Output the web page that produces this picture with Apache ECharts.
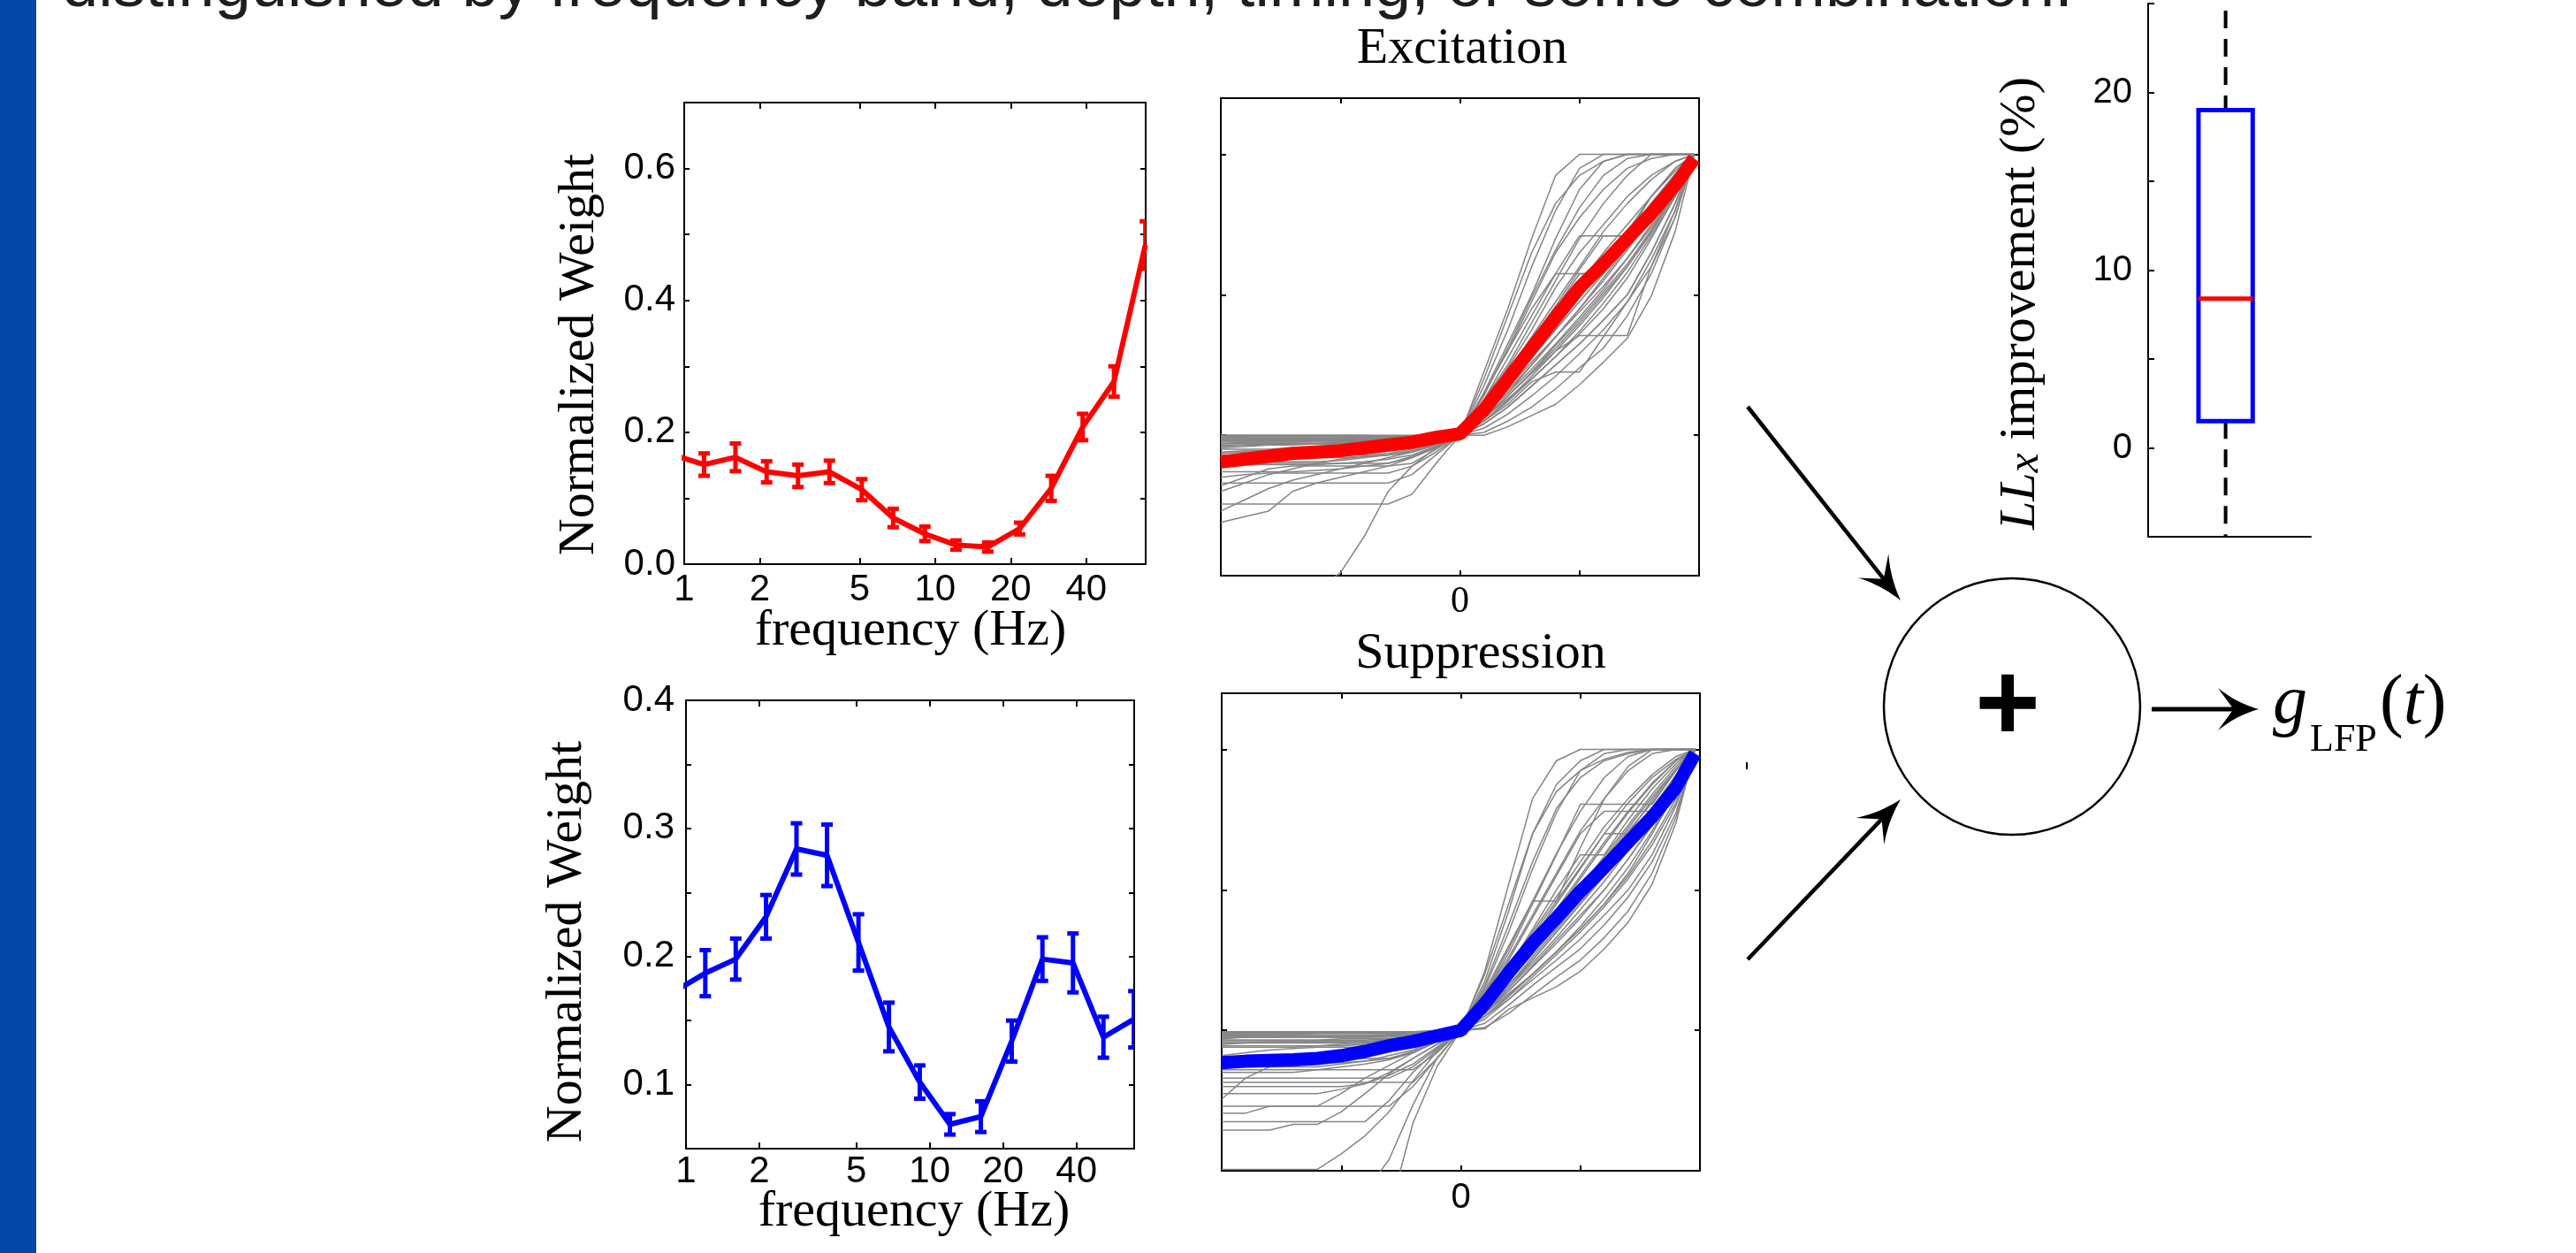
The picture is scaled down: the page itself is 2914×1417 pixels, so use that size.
<!DOCTYPE html>
<html><head><meta charset="utf-8">
<script src="https://cdn.jsdelivr.net/npm/echarts@6/dist/echarts.min.js"></script>
<style>html,body{margin:0;padding:0;background:#fff;overflow:hidden}#c{width:2914px;height:1417px;}</style>
</head><body><div id="c"></div>
<script>
// ---------------- data ----------------
const freqHz = [0.9, 1.2, 1.6, 2.13, 2.84, 3.79, 5.1, 6.8, 9.1, 12.1, 16.2, 21.7, 29, 38.7, 51.6, 68.8];
const excWeight = [0.166, 0.151, 0.162, 0.140, 0.134, 0.140, 0.113, 0.070, 0.046, 0.029, 0.026, 0.054, 0.115, 0.208, 0.277, 0.484];
const excErr = [0.017, 0.017, 0.021, 0.016, 0.017, 0.017, 0.016, 0.014, 0.011, 0.007, 0.007, 0.009, 0.019, 0.020, 0.023, 0.036];
const supWeight = [0.173, 0.187, 0.198, 0.231, 0.284, 0.279, 0.211, 0.145, 0.102, 0.069, 0.075, 0.134, 0.198, 0.195, 0.137, 0.151];
const supErr = [0.018, 0.018, 0.016, 0.017, 0.020, 0.024, 0.022, 0.019, 0.013, 0.008, 0.012, 0.016, 0.017, 0.023, 0.016, 0.022];
const freqTicks = [1, 2, 5, 10, 20, 40];

const nlX = [-2, -1.8, -1.6, -1.4, -1.2, -1, -0.8, -0.6, -0.4, -0.2, 0, 0.2, 0.4, 0.6, 0.8, 1, 1.2, 1.4, 1.6, 1.8, 1.96];
const excMean = [0.81, 0.83, 0.85, 0.87, 0.88, 0.89, 0.91, 0.93, 0.95, 0.985, 1.01, 1.18, 1.40, 1.62, 1.84, 2.05, 2.22, 2.40, 2.58, 2.78, 2.97];
const supMean = [0.77, 0.78, 0.785, 0.79, 0.80, 0.82, 0.85, 0.89, 0.92, 0.96, 1.00, 1.19, 1.41, 1.62, 1.80, 1.99, 2.16, 2.34, 2.52, 2.73, 2.97];

const excGray = [
 [1.00,1.00,1.00,1.00,1.00,1.00,1.00,1.00,1.00,1.00,1.00,1.45,1.90,2.40,2.85,3.00,3.00,3.00,3.00,3.00,3.00],
 [0.98,0.98,0.98,0.98,0.98,0.98,0.98,0.98,0.99,0.99,1.00,1.35,1.75,2.20,2.60,2.90,3.00,3.00,3.00,3.00,3.00],
 [0.96,0.96,0.96,0.97,0.97,0.97,0.97,0.98,0.98,0.99,1.00,1.40,1.85,2.30,2.65,2.85,2.95,3.00,3.00,3.00,3.00],
 [0.94,0.95,0.95,0.95,0.95,0.95,0.96,0.96,0.97,0.98,1.00,1.30,1.65,2.00,2.40,2.75,2.95,3.00,3.00,3.00,3.00],
 [0.91,0.92,0.93,0.93,0.94,0.94,0.94,0.95,0.96,0.98,1.00,1.30,1.60,1.95,2.30,2.55,2.75,2.90,2.97,3.00,3.00],
 [0.87,0.88,0.88,0.88,0.89,0.89,0.90,0.90,0.92,0.95,1.00,1.25,1.55,1.85,2.15,2.42,2.42,2.42,2.70,2.90,3.00],
 [0.84,0.86,0.86,0.86,0.86,0.86,0.86,0.87,0.90,0.95,1.00,1.22,1.48,1.75,2.05,2.30,2.50,2.70,2.85,2.95,3.00],
 [0.81,0.81,0.81,0.81,0.81,0.82,0.84,0.86,0.89,0.94,1.00,1.30,1.60,1.90,2.15,2.15,2.15,2.45,2.70,2.90,3.00],
 [0.77,0.79,0.80,0.80,0.80,0.80,0.80,0.80,0.85,0.92,1.00,1.20,1.42,1.65,1.90,2.15,2.15,2.40,2.65,2.85,3.00],
 [0.74,0.74,0.74,0.74,0.75,0.76,0.78,0.80,0.84,0.91,1.00,1.18,1.38,1.60,1.85,2.05,2.25,2.45,2.65,2.85,3.00],
 [0.70,0.72,0.73,0.73,0.73,0.73,0.73,0.73,0.78,0.88,1.00,1.15,1.35,1.55,1.75,1.95,2.15,2.35,2.60,2.82,3.00],
 [0.66,0.66,0.66,0.66,0.66,0.66,0.66,0.66,0.72,0.86,1.00,1.15,1.30,1.50,1.70,1.90,2.10,2.32,2.55,2.80,3.00],
 [0.64,0.70,0.76,0.78,0.78,0.78,0.78,0.78,0.80,0.90,1.00,1.12,1.28,1.45,1.62,1.80,2.00,2.20,2.45,2.72,3.00],
 [0.60,0.66,0.72,0.76,0.80,0.83,0.85,0.86,0.88,0.93,1.00,1.10,1.25,1.42,1.60,1.71,1.71,1.71,2.20,2.60,3.00],
 [0.51,0.51,0.51,0.51,0.51,0.51,0.51,0.51,0.58,0.80,1.00,1.10,1.22,1.38,1.45,1.45,1.70,1.95,2.25,2.60,3.00],
 [0.46,0.54,0.62,0.68,0.72,0.76,0.80,0.84,0.88,0.94,1.00,1.08,1.20,1.35,1.50,1.65,1.82,2.00,2.30,2.65,3.00],
 [0.38,0.42,0.46,0.60,0.66,0.70,0.74,0.78,0.84,0.92,1.00,1.05,1.15,1.28,1.42,1.58,1.75,1.95,2.20,2.55,3.00],
 [-0.50,-0.40,-0.30,-0.20,-0.10,0.02,0.28,0.60,0.78,0.91,1.00,1.00,1.06,1.14,1.22,1.36,1.52,1.69,1.99,2.45,3.00],
 [1.00,1.00,1.00,1.00,1.00,1.00,1.00,0.99,0.99,0.99,1.00,1.02,1.10,1.20,1.33,1.48,1.62,1.85,2.15,2.55,3.00],
 [0.95,0.95,0.95,0.95,0.96,0.96,0.96,0.96,0.97,0.98,1.00,1.25,1.50,1.80,2.10,2.40,2.65,2.85,3.00,3.00,3.00],
 [0.98,0.98,0.97,0.97,0.97,0.97,0.97,0.97,0.98,0.99,1.00,1.20,1.45,1.70,1.95,2.20,2.45,2.65,2.82,2.95,3.00],
 [0.88,0.89,0.89,0.90,0.90,0.90,0.90,0.91,0.93,0.96,1.00,1.12,1.28,1.45,1.64,1.82,2.02,2.22,2.46,2.74,3.00],
 [0.96,0.96,0.96,0.96,0.96,0.96,0.97,0.97,0.98,0.99,1.00,1.08,1.20,1.35,1.50,1.65,1.82,2.00,2.30,2.65,3.00],
 [0.92,0.93,0.93,0.94,0.94,0.94,0.95,0.95,0.96,0.98,1.00,1.15,1.35,1.55,1.76,1.98,2.20,2.42,2.62,2.85,3.00],
 [0.97,0.97,0.97,0.97,0.97,0.98,0.98,0.98,0.98,0.99,1.00,1.16,1.34,1.52,1.70,1.88,2.06,2.26,2.48,2.74,3.00],
 [0.99,0.99,0.99,0.99,0.99,0.99,0.99,0.99,0.99,1.00,1.00,1.14,1.30,1.47,1.65,1.84,2.04,2.26,2.50,2.76,3.00],
 [0.93,0.93,0.94,0.94,0.94,0.95,0.95,0.96,0.97,0.98,1.00,1.13,1.28,1.44,1.60,1.78,1.98,2.20,2.44,2.72,3.00],
 [0.90,0.90,0.90,0.91,0.91,0.92,0.92,0.93,0.94,0.97,1.00,1.18,1.40,1.62,1.86,2.08,2.30,2.50,2.70,2.88,3.00],
 [0.86,0.86,0.87,0.87,0.87,0.88,0.88,0.89,0.91,0.95,1.00,1.16,1.36,1.56,1.78,2.00,2.22,2.44,2.64,2.84,3.00],
 [0.83,0.83,0.83,0.84,0.84,0.84,0.85,0.86,0.88,0.93,1.00,1.14,1.32,1.50,1.70,1.90,2.12,2.34,2.58,2.80,3.00],
 [0.79,0.79,0.79,0.79,0.79,0.80,0.81,0.83,0.86,0.92,1.00,1.10,1.24,1.40,1.56,1.74,1.94,2.16,2.42,2.70,3.00],
 [0.99,0.99,0.99,0.99,0.99,0.99,0.99,0.99,0.99,0.99,1.00,1.28,1.62,1.98,2.32,2.62,2.85,2.97,3.00,3.00,3.00],
 [0.97,0.97,0.97,0.97,0.97,0.97,0.97,0.97,0.98,0.99,1.00,1.20,1.44,1.68,1.92,2.18,2.42,2.42,2.65,2.86,3.00],
 [0.94,0.94,0.94,0.94,0.94,0.94,0.95,0.95,0.96,0.98,1.00,1.12,1.26,1.40,1.56,1.72,1.90,2.12,2.40,2.70,3.00]
];

const supGray = [
 [0.99,0.99,0.99,0.99,0.99,0.99,0.99,0.99,0.99,1.00,1.00,1.42,2.04,2.65,2.92,3.00,3.00,3.00,3.00,3.00,3.00],
 [0.97,0.97,0.97,0.97,0.98,0.98,0.98,0.98,0.98,0.99,1.00,1.35,1.85,2.40,2.75,2.92,3.00,3.00,3.00,3.00,3.00],
 [0.96,0.96,0.96,0.96,0.96,0.96,0.96,0.97,0.97,0.99,1.00,1.30,1.70,2.15,2.55,2.85,2.97,3.00,3.00,3.00,3.00],
 [0.94,0.95,0.95,0.95,0.95,0.95,0.95,0.95,0.96,0.98,1.00,1.28,1.60,1.92,1.92,2.30,2.65,2.88,3.00,3.00,3.00],
 [0.93,0.93,0.93,0.93,0.93,0.93,0.93,0.94,0.95,0.97,1.00,1.25,1.55,1.90,2.25,2.61,2.61,2.61,2.61,2.85,3.00],
 [0.90,0.91,0.92,0.92,0.92,0.92,0.92,0.93,0.94,0.97,1.00,1.22,1.50,1.80,2.10,2.40,2.56,2.56,2.56,2.80,3.00],
 [0.88,0.88,0.88,0.88,0.89,0.90,0.91,0.92,0.93,0.96,1.00,1.20,1.45,1.72,2.00,2.25,2.25,2.50,2.72,2.90,3.00],
 [0.82,0.84,0.86,0.87,0.88,0.88,0.88,0.89,0.91,0.95,1.00,1.18,1.40,1.65,1.90,2.15,2.40,2.62,2.80,2.93,3.00],
 [0.74,0.74,0.74,0.74,0.74,0.76,0.78,0.82,0.86,0.93,1.00,1.15,1.36,1.58,1.80,2.02,2.24,2.46,2.68,2.88,3.00],
 [0.70,0.70,0.70,0.70,0.72,0.74,0.76,0.79,0.84,0.92,1.00,1.12,1.32,1.52,1.72,1.92,2.12,2.34,2.58,2.80,3.00],
 [0.66,0.66,0.66,0.66,0.66,0.66,0.66,0.66,0.74,0.87,1.00,1.12,1.28,1.46,1.64,1.82,2.00,2.22,2.46,2.74,3.00],
 [0.60,0.60,0.60,0.60,0.60,0.60,0.62,0.70,0.80,0.90,1.00,1.10,1.25,1.40,1.56,1.72,1.90,2.10,2.35,2.65,3.00],
 [0.55,0.55,0.55,0.55,0.55,0.58,0.62,0.68,0.76,0.88,1.00,1.08,1.22,1.36,1.50,1.65,1.82,2.00,2.25,2.60,3.00],
 [0.51,0.66,0.74,0.78,0.80,0.82,0.84,0.86,0.89,0.94,1.00,1.05,1.18,1.32,1.45,1.58,1.75,1.95,2.20,2.55,3.00],
 [0.46,0.46,0.46,0.46,0.46,0.46,0.46,0.46,0.60,0.80,1.00,1.02,1.12,1.25,1.38,1.50,1.66,1.85,2.12,2.52,3.00],
 [0.41,0.41,0.46,0.46,0.46,0.55,0.66,0.75,0.84,0.92,1.00,1.01,1.15,1.23,1.31,1.42,1.58,1.77,2.04,2.48,3.00],
 [0.29,0.29,0.29,0.33,0.33,0.42,0.55,0.69,0.80,0.90,1.00,1.40,1.90,2.40,2.70,2.85,2.93,2.98,3.00,3.00,3.00],
 [0.01,0.01,0.01,0.01,0.01,0.12,0.25,0.42,0.64,0.85,1.00,1.32,1.75,2.20,2.58,2.80,2.92,2.97,3.00,3.00,3.00],
 [-0.80,-0.70,-0.60,-0.50,-0.40,-0.30,-0.15,0.08,0.47,0.80,1.00,1.25,1.52,1.82,2.12,2.42,2.65,2.85,2.97,3.00,3.00],
 [-1.00,-0.90,-0.80,-0.70,-0.60,-0.50,-0.40,-0.30,0.34,0.74,1.00,1.18,1.38,1.60,1.84,2.08,2.32,2.55,2.75,2.92,3.00],
 [0.985,0.985,0.985,0.985,0.985,0.985,0.985,0.99,0.99,0.99,1.00,1.10,1.22,1.38,1.54,1.70,1.88,2.08,2.32,2.62,3.00],
 [0.95,0.95,0.95,0.96,0.96,0.96,0.96,0.96,0.97,0.98,1.00,1.15,1.35,1.55,1.76,1.98,2.20,2.42,2.62,2.85,3.00],
 [0.72,0.72,0.72,0.72,0.72,0.72,0.72,0.72,0.72,0.84,1.00,1.20,1.45,1.70,1.95,2.20,2.45,2.65,2.82,2.95,3.00],
 [0.92,0.92,0.92,0.92,0.92,0.92,0.92,0.93,0.95,0.97,1.00,1.12,1.30,1.50,1.70,1.90,2.10,2.30,2.52,2.75,3.00],
 [0.98,0.98,0.98,0.98,0.98,0.98,0.98,0.98,0.99,0.99,1.00,1.16,1.35,1.54,1.74,1.94,2.14,2.36,2.58,2.80,3.00],
 [0.97,0.97,0.97,0.97,0.97,0.97,0.97,0.97,0.98,0.99,1.00,1.14,1.30,1.48,1.66,1.86,2.06,2.28,2.52,2.76,3.00],
 [0.95,0.95,0.95,0.95,0.95,0.95,0.95,0.96,0.97,0.98,1.00,1.13,1.28,1.45,1.62,1.80,2.00,2.22,2.46,2.72,3.00],
 [0.93,0.93,0.93,0.93,0.93,0.94,0.94,0.94,0.95,0.97,1.00,1.18,1.40,1.62,1.86,2.10,2.34,2.56,2.76,2.92,3.00],
 [0.91,0.91,0.91,0.91,0.91,0.91,0.92,0.93,0.94,0.97,1.00,1.16,1.36,1.57,1.78,2.00,2.22,2.44,2.66,2.86,3.00],
 [0.89,0.89,0.89,0.89,0.89,0.89,0.90,0.91,0.93,0.96,1.00,1.14,1.32,1.50,1.70,1.90,2.12,2.34,2.58,2.82,3.00],
 [0.80,0.80,0.80,0.80,0.80,0.80,0.80,0.80,0.84,0.92,1.00,1.10,1.24,1.40,1.56,1.74,1.94,2.16,2.42,2.70,3.00],
 [0.77,0.77,0.77,0.77,0.77,0.77,0.78,0.80,0.85,0.92,1.00,1.26,1.58,1.92,2.26,2.56,2.80,2.95,3.00,3.00,3.00],
 [0.63,0.63,0.63,0.63,0.63,0.63,0.63,0.63,0.63,0.80,1.00,1.20,1.44,1.68,1.92,2.16,2.40,2.40,2.64,2.86,3.00],
 [0.35,0.35,0.35,0.35,0.35,0.35,0.35,0.50,0.70,0.86,1.00,1.12,1.26,1.40,1.56,1.72,1.90,2.12,2.40,2.70,3.00]
];

// boxplot of LLx improvement (%): lower whisker, Q1, median, Q3, upper whisker
const llxBox = [-5, 1.5, 8.4, 19.0, 25];

// ---------------- styling ----------------
const SANS = '"Liberation Sans", Arial, Helvetica, sans-serif';
const SERIF = '"Liberation Serif", "Times New Roman", Times, serif';
const AX = {color: '#000', width: 2};

function axisCommon(extra) {
  return Object.assign({
    axisLine: {show: true, onZero: false, lineStyle: AX},
    axisTick: {show: true, inside: true, length: 7, lineStyle: AX},
    axisLabel: {show: false},
    splitLine: {show: false},
    minorTick: {show: false},
    minorSplitLine: {show: false}
  }, extra);
}
function logX(grid, pos, showLabel, margin) {
  return axisCommon({
    type: 'log', logBase: 10, gridIndex: grid, position: pos, min: 1, max: 69,
    axisTick: {show: true, inside: true, length: 7, lineStyle: AX, customValues: freqTicks},
    axisLabel: showLabel ? {show: true, customValues: freqTicks, margin: margin, fontFamily: SANS, fontSize: 42, color: '#000'} : {show: false}
  });
}
function weightY(grid, pos, min, max, step, labelEvery, showLabel, margin) {
  return axisCommon({
    type: 'value', gridIndex: grid, position: pos, min: min, max: max, interval: step,
    axisTick: {show: true, inside: true, length: 6, lineStyle: AX},
    axisLabel: showLabel ? {
      show: true, margin: margin, fontFamily: SANS, fontSize: 42, color: '#000',
      formatter: function (v) { const k = Math.round(v / step); return (k % labelEvery === 0) ? v.toFixed(1) : ''; }
    } : {show: false}
  });
}
function nlXAxis(grid, pos, showLabel, font, size, margin) {
  return axisCommon({
    type: 'value', gridIndex: grid, position: pos, min: -2, max: 2, interval: 1,
    axisTick: {show: true, inside: true, length: 6, lineStyle: AX},
    axisLabel: showLabel ? {show: true, margin: margin, fontFamily: font, fontSize: size, color: '#000',
      formatter: function (v) { return Math.abs(v) < 1e-9 ? '0' : ''; }} : {show: false}
  });
}
function nlYAxis(grid, pos) {
  return axisCommon({
    type: 'value', gridIndex: grid, position: pos, min: 0, max: 3.4, interval: 1,
    axisTick: {show: true, inside: true, length: 6, lineStyle: AX}
  });
}

function errorBarSeries(xi, color, vals, errs) {
  return {
    type: 'custom', xAxisIndex: xi, yAxisIndex: xi, clip: true, z: 4,
    data: freqHz.map(function (f, i) { return [f, vals[i], errs[i]]; }),
    renderItem: function (params, api) {
      const x = api.value(0), y = api.value(1), e = api.value(2);
      const hi = api.coord([x, y + e]), lo = api.coord([x, y - e]);
      const cw = 6.5;
      const st = {stroke: color, lineWidth: 5};
      return {type: 'group', children: [
        {type: 'line', shape: {x1: hi[0], y1: hi[1], x2: lo[0], y2: lo[1]}, style: st},
        {type: 'line', shape: {x1: hi[0] - cw, y1: hi[1], x2: hi[0] + cw, y2: hi[1]}, style: st},
        {type: 'line', shape: {x1: lo[0] - cw, y1: lo[1], x2: lo[0] + cw, y2: lo[1]}, style: st}
      ]};
    }
  };
}
function grayLines(xi, arr) {
  return arr.map(function (ys) {
    return {type: 'line', xAxisIndex: xi, yAxisIndex: xi, symbol: 'none', silent: true, clip: true, z: 2,
      data: nlX.map(function (x, i) { return [x, ys[i]]; }),
      lineStyle: {color: '#858585', width: 1.5}};
  });
}

// ---------------- decorations (diagram) ----------------
function quadPts(p0, c, p1, n) {
  const out = [];
  for (let k = 1; k <= n; k++) {
    const t = k / n, u = 1 - t;
    out.push([u * u * p0[0] + 2 * u * t * c[0] + t * t * p1[0], u * u * p0[1] + 2 * u * t * c[1] + t * t * p1[1]]);
  }
  return out;
}
function arrow(x0, y0, tx, ty, len, half, width) {
  let dx = tx - x0, dy = ty - y0;
  const m = Math.hypot(dx, dy); dx /= m; dy /= m;
  const nx = -dy, ny = dx;
  const T = [tx, ty];
  const bx = tx - dx * len, by = ty - dy * len;
  const p1 = [bx + nx * half, by + ny * half];
  const p3 = [bx - nx * half, by - ny * half];
  const nt = [tx - dx * len * 0.62, ty - dy * len * 0.62];
  const c1 = [tx - dx * len * 0.55 + nx * half * 0.3, ty - dy * len * 0.55 + ny * half * 0.3];
  const c3 = [tx - dx * len * 0.55 - nx * half * 0.3, ty - dy * len * 0.55 - ny * half * 0.3];
  const pts = [T].concat(quadPts(T, c1, p1, 10), [nt], [p3], quadPts(p3, c3, T, 10));
  return [
    {type: 'line', shape: {x1: x0, y1: y0, x2: nt[0], y2: nt[1]}, style: {stroke: '#000', lineWidth: width}, z: 10},
    {type: 'polygon', shape: {points: pts}, style: {fill: '#000'}, z: 10}
  ];
}

const graphics = [
  {type: 'rect', shape: {x: 0, y: 0, width: 41, height: 1417}, style: {fill: '#0447a8'}, z: 1},
  {type: 'text', x: 70, y: -13, style: {text: 'distinguished by frequency band, depth, timing, or some combination.',
    font: '74px ' + SANS, fill: '#1e1e1e', align: 'left', verticalAlign: 'middle'}},
  {type: 'text', x: 1654, y: 56, style: {text: 'Excitation', font: '58px ' + SERIF, fill: '#000', align: 'center', verticalAlign: 'middle'}},
  {type: 'text', x: 1675, y: 740, style: {text: 'Suppression', font: '58px ' + SERIF, fill: '#000', align: 'center', verticalAlign: 'middle'}},
  {type: 'text', x: 1030, y: 714, style: {text: 'frequency (Hz)', font: '58px ' + SERIF, fill: '#000', align: 'center', verticalAlign: 'middle'}},
  {type: 'text', x: 1034, y: 1371, style: {text: 'frequency (Hz)', font: '58px ' + SERIF, fill: '#000', align: 'center', verticalAlign: 'middle'}},
  {type: 'text', x: 656, y: 401, rotation: Math.PI / 2, style: {text: 'Normalized Weight', font: '58px ' + SERIF, fill: '#000', align: 'center', verticalAlign: 'middle'}},
  {type: 'text', x: 642, y: 1065, rotation: Math.PI / 2, style: {text: 'Normalized Weight', font: '58px ' + SERIF, fill: '#000', align: 'center', verticalAlign: 'middle'}},
  {type: 'text', x: 2286, y: 343, rotation: Math.PI / 2, style: {
    text: '{i|LL}{s|x} improvement (%)', fontFamily: SERIF, fontSize: 58, fill: '#000', align: 'center', verticalAlign: 'middle',
    rich: {i: {fontFamily: SERIF, fontSize: 58, fontStyle: 'italic', fill: '#000'},
           s: {fontFamily: SERIF, fontSize: 50, fontStyle: 'italic', fill: '#000', padding: [12, 0, 0, 0]}}}},
  {type: 'circle', shape: {cx: 2276, cy: 799, r: 145}, style: {fill: 'none', stroke: '#000', lineWidth: 2.5}},
  {type: 'text', x: 2271, y: 802, style: {text: '+', font: 'bold 126px ' + SANS, fill: '#000', align: 'center', verticalAlign: 'middle'}},
  {type: 'text', x: 2571, y: 796, style: {text: 'g', font: 'italic 78px ' + SERIF, fill: '#000', align: 'left', verticalAlign: 'middle'}},
  {type: 'text', x: 2613, y: 837, style: {text: 'LFP', font: '44px ' + SERIF, fill: '#000', align: 'left', verticalAlign: 'middle'}},
  {type: 'text', x: 2692, y: 797, style: {text: '{p|(}{t|t}{p|)}', fontFamily: SERIF, fontSize: 80, fill: '#000', align: 'left', verticalAlign: 'middle',
    rich: {p: {fontFamily: SERIF, fontSize: 80, fill: '#000'}, t: {fontFamily: SERIF, fontSize: 80, fontStyle: 'italic', fill: '#000'}}}},
  {type: 'line', shape: {x1: 1976, y1: 862, x2: 1976, y2: 870}, style: {stroke: '#000', lineWidth: 2}}
].concat(
  arrow(1977, 460, 2150, 679, 50, 22, 4.5),
  arrow(1977, 1085, 2150, 904, 50, 22, 4.5),
  arrow(2434, 802, 2555, 802, 46, 24, 5)
);

// ---------------- chart ----------------
const chart = echarts.init(document.getElementById('c'), null, {renderer: 'canvas', width: 2914, height: 1417});
const option = {
  backgroundColor: '#fff',
  animation: false,
  grid: [
    {left: 774, top: 116, width: 522, height: 522},
    {left: 776, top: 792, width: 507, height: 507},
    {left: 1381, top: 111, width: 541, height: 540},
    {left: 1382, top: 784, width: 541, height: 540},
    {left: 2430, top: 4, width: 184, height: 603}
  ],
  xAxis: [
    logX(0, 'bottom', true, 8),
    logX(0, 'top', false, 0),
    logX(1, 'bottom', true, 5),
    logX(1, 'top', false, 0),
    nlXAxis(2, 'bottom', true, SERIF, 42, 9),
    nlXAxis(2, 'top', false),
    nlXAxis(3, 'bottom', true, SANS, 40, 11),
    nlXAxis(3, 'top', false),
    axisCommon({type: 'value', gridIndex: 4, position: 'bottom', min: 0.5, max: 1.55, axisTick: {show: false}})
  ],
  yAxis: [
    weightY(0, 'left', 0, 0.7, 0.1, 2, true, 10),
    weightY(0, 'right', 0, 0.7, 0.1, 2, false),
    weightY(1, 'left', 0.05, 0.4, 0.05, 2, true, 13),
    weightY(1, 'right', 0.05, 0.4, 0.05, 2, false),
    nlYAxis(2, 'left'),
    nlYAxis(2, 'right'),
    nlYAxis(3, 'left'),
    nlYAxis(3, 'right'),
    axisCommon({type: 'value', gridIndex: 4, position: 'left', min: -5, max: 25, interval: 5,
      axisTick: {show: true, inside: true, length: 7, lineStyle: AX},
      axisLabel: {show: true, margin: 18, fontFamily: SANS, fontSize: 40, color: '#000',
        formatter: function (v) { return (Math.round(v) % 10 === 0) ? String(Math.round(v)) : ''; }}})
  ],
  series: [].concat(
    [{type: 'line', xAxisIndex: 0, yAxisIndex: 0, symbol: 'none', clip: true, z: 3,
      data: freqHz.map(function (f, i) { return [f, excWeight[i]]; }),
      lineStyle: {color: '#ff0000', width: 6}},
     errorBarSeries(0, '#ff0000', excWeight, excErr),
     {type: 'line', xAxisIndex: 2, yAxisIndex: 2, symbol: 'none', clip: true, z: 3,
      data: freqHz.map(function (f, i) { return [f, supWeight[i]]; }),
      lineStyle: {color: '#0000ff', width: 6}},
     errorBarSeries(2, '#0000ff', supWeight, supErr)],
    grayLines(4, excGray),
    [{type: 'line', xAxisIndex: 4, yAxisIndex: 4, symbol: 'none', clip: true, z: 5,
      data: nlX.map(function (x, i) { return [x, excMean[i]]; }),
      lineStyle: {color: '#ff0000', width: 15}}],
    grayLines(6, supGray),
    [{type: 'line', xAxisIndex: 6, yAxisIndex: 6, symbol: 'none', clip: true, z: 5,
      data: nlX.map(function (x, i) { return [x, supMean[i]]; }),
      lineStyle: {color: '#0000ff', width: 15}}],
    [{type: 'custom', xAxisIndex: 8, yAxisIndex: 8, clip: false, z: 5,
      data: [[1].concat(llxBox)],
      renderItem: function (params, api) {
        const x = api.value(0), lo = api.value(1), q1 = api.value(2), md = api.value(3), q3 = api.value(4), hi = api.value(5);
        const hw = 0.175;
        const a = api.coord([x - hw, q3]), b = api.coord([x + hw, q1]);
        const m1 = api.coord([x - hw, md]), m2 = api.coord([x + hw, md]);
        const t = api.coord([x, hi]), tq = api.coord([x, q3]), bq = api.coord([x, q1]), bl = api.coord([x, lo]);
        const dash = {stroke: '#000', lineWidth: 4, lineDash: [20, 12]};
        return {type: 'group', children: [
          {type: 'line', shape: {x1: t[0], y1: t[1] + 8, x2: tq[0], y2: tq[1]}, style: dash},
          {type: 'line', shape: {x1: bq[0], y1: bq[1], x2: bl[0], y2: bl[1]}, style: dash},
          {type: 'rect', shape: {x: a[0], y: a[1], width: b[0] - a[0], height: b[1] - a[1]}, style: {fill: 'none', stroke: '#0000ff', lineWidth: 5}},
          {type: 'line', shape: {x1: m1[0], y1: m1[1], x2: m2[0], y2: m2[1]}, style: {stroke: '#ff0000', lineWidth: 5}}
        ]};
      }}]
  ),
  graphic: {elements: graphics}
};
chart.setOption(option);
</script>
</body></html>
